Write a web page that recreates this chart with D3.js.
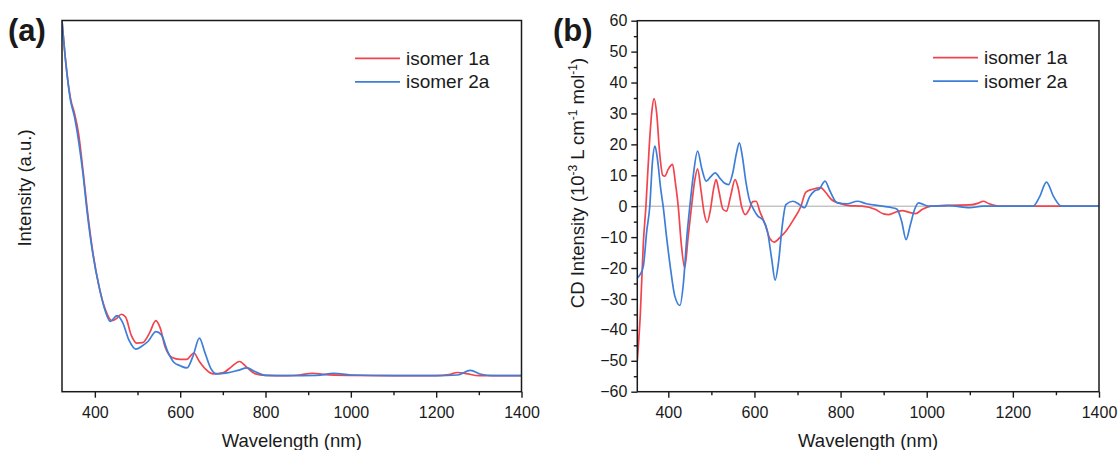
<!DOCTYPE html>
<html>
<head>
<meta charset="utf-8">
<script src="https://cdn.jsdelivr.net/npm/d3@7"></script>
<style>
  body { margin: 0; background: #fff; }
  text { font-family: "Liberation Sans", Arial, sans-serif; fill: #1a1a1a; }
</style>
</head>
<body>
<div id="chart"></div>
<script>
// ---- data ----
const seriesNames = ['isomer 1a', 'isomer 2a'];
const xMajorTicks = [400, 600, 800, 1000, 1200, 1400];
const xMinorTicks = [500, 700, 900, 1100, 1300];
const cdMajorTicks = [-60, -50, -40, -30, -20, -10, 0, 10, 20, 30, 40, 50, 60];
const cdMinorTicks = [-55, -45, -35, -25, -15, -5, 5, 15, 25, 35, 45, 55];

// (a) absorption, isomer 1a
const wlAbs1 = [323, 332, 343, 352, 362, 372, 382, 395, 410, 425, 440, 450, 462, 472, 485, 498, 512, 528, 543, 553, 565, 580, 600, 615, 632, 645, 660, 678, 700, 720, 739, 755, 775, 800, 850, 880, 910, 940, 1000, 1100, 1200, 1230, 1250, 1270, 1300, 1400];
const absA1 = [100, 88, 78, 74, 68, 58, 47, 35, 25, 18.5, 15.5, 16, 17.3, 16.5, 11.5, 9.2, 9.3, 12, 15.5, 13.5, 8, 5.2, 4.6, 4.6, 6.4, 4, 1.8, 0.5, 0.8, 2.5, 4, 2.5, 0.6, 0.1, 0, 0.2, 0.7, 0.3, 0.1, 0, 0, 0.3, 0.9, 0.6, 0, 0];
// (a) absorption, isomer 2a
const wlAbs2 = [323, 332, 343, 352, 362, 372, 382, 395, 410, 425, 436, 452, 465, 480, 496, 510, 525, 543, 556, 570, 585, 600, 616, 630, 645, 658, 672, 686, 710, 735, 757, 775, 800, 850, 920, 960, 1000, 1100, 1200, 1250, 1280, 1305, 1330, 1400];
const absA2 = [100, 88, 77.5, 73, 66, 57, 46, 34.5, 25, 18, 15.3, 16.9, 15, 10, 7.5, 8.3, 9.7, 12.4, 11.5, 7, 3.8, 2.8, 2.2, 5.5, 10.6, 6.5, 2, 0.5, 0.8, 1.5, 2.2, 1.2, 0.1, 0, 0.1, 0.7, 0.2, 0, 0, 0.2, 1.5, 0.4, 0, 0];

// (b) CD, isomer 1a
const wlCd1 = [328, 335, 342, 348, 356, 362, 367, 373, 380, 387, 392, 400, 410, 416, 423, 430, 438, 446, 454, 461, 468, 476, 483, 490, 498, 505, 511, 518, 527, 535, 545, 555, 562, 570, 579, 588, 596, 604, 612, 625, 636, 646, 660, 673, 690, 708, 719, 735, 754, 765, 780, 797, 820, 850, 880, 900, 912, 930, 943, 960, 974, 990, 1010, 1050, 1100, 1120, 1131, 1145, 1170, 1250, 1400];
const cdB1 = [-50, -35, -12, 0, 20, 31, 34.8, 30, 17, 10, 9.7, 12, 13.5, 8, 0, -12, -19.9, -10, 0, 8, 12.1, 5, -2, -5.2, -1, 5.5, 8.6, 4.5, -1, -1.6, 3.5, 8.6, 6, 0, -2.7, -1, 1.5, 1.6, -1.5, -6, -10.5, -11.6, -10, -8.1, -4.5, 0, 4.5, 5.5, 6, 4.5, 2, 1, 0.2, 0, -1, -2.5, -2.7, -1.8, -1.4, -2, -2.4, -1, 0, 0.3, 0.4, 1, 1.6, 0.8, 0, 0, 0];
// (b) CD, isomer 2a
const wlCd2 = [328, 335, 342, 350, 357, 363, 369, 375, 382, 388, 396, 405, 415, 427, 435, 443, 450, 458, 468, 478, 488, 498, 509, 520, 530, 540, 550, 558, 565, 572, 580, 588, 598, 608, 620, 630, 640, 648, 656, 664, 673, 689, 705, 716, 728, 740, 750, 764, 775, 792, 815, 839, 860, 897, 920, 931, 942, 952, 962, 972, 981, 1004, 1050, 1100, 1130, 1200, 1247, 1262, 1278, 1295, 1313, 1400];
const cdB2 = [-23.2, -22, -19.4, -8, 0, 14, 19.4, 15, 6, 0, -10, -20, -29, -32.1, -25, -10, 0, 10, 17.8, 12, 8.1, 9.5, 10.8, 9, 7.5, 7, 11, 17, 20.5, 16, 8, 2.2, -1, -3.2, -4.5, -8, -17, -23.9, -18, -7, 0.5, 1.6, 0.5, -0.5, 3, 5, 5.5, 8.1, 5, 1.1, 0.8, 1.6, 0.8, 0, -0.5, -1, -5, -10.8, -6, -1, 1.1, 0, 0.2, -0.5, 0, 0, 0, 3, 7.8, 3, 0, 0];

const colors = ['#f2444c', '#3d7ed8'];

// ---- layout ----
const W = 1118, H = 450;
const svg = d3.select('#chart').append('svg')
  .attr('width', W).attr('height', H);

const panelA = { x0: 62, x1: 521.5, y0: 20.5, y1: 391.7 };
const panelB = { x0: 637.3, x1: 1099, y0: 20.7, y1: 391.7 };

function zip(xs, ys) { return xs.map((d, i) => [d, ys[i]]); }

function drawPanel(p, opt) {
  const x = d3.scaleLinear().domain(opt.xDomain).range([p.x0, p.x1]);
  const y = d3.scaleLinear().domain(opt.yDomain).range([p.y1, p.y0]);
  const g = svg.append('g');

  const clipId = 'clip-' + opt.key;
  svg.append('clipPath').attr('id', clipId)
    .append('rect')
      .attr('x', p.x0).attr('y', p.y0)
      .attr('width', p.x1 - p.x0).attr('height', p.y1 - p.y0);

  // zero line (CD only)
  if (opt.zeroLine) {
    g.append('line')
      .attr('x1', p.x0).attr('x2', p.x1)
      .attr('y1', y(0)).attr('y2', y(0))
      .attr('stroke', '#a8a8a8').attr('stroke-width', 1);
  }

  const line = d3.line()
    .x(d => x(d[0])).y(d => y(d[1]))
    .curve(d3.curveMonotoneX);

  const lines = g.append('g').attr('clip-path', 'url(#' + clipId + ')');
  opt.series.forEach((s, i) => {
    lines.append('path')
      .datum(s)
      .attr('fill', 'none')
      .attr('stroke', colors[i])
      .attr('stroke-width', 1.7)
      .attr('stroke-linejoin', 'round')
      .attr('d', line);
  });

  // x axis, major + minor
  const xa = g.append('g')
    .attr('transform', 'translate(0,' + p.y1 + ')')
    .call(d3.axisBottom(x).tickValues(xMajorTicks).tickSize(6).tickSizeOuter(0).tickPadding(9).tickFormat(d3.format('d')));
  xa.select('.domain').remove();
  xa.selectAll('line').attr('stroke', '#1a1a1a').attr('stroke-width', 1.4);
  xa.selectAll('text').attr('font-size', 16).attr('font-family', null).attr('fill', '#1a1a1a');

  const xm = g.append('g')
    .attr('transform', 'translate(0,' + p.y1 + ')')
    .call(d3.axisBottom(x).tickValues(xMinorTicks).tickSize(3.5).tickFormat(''));
  xm.select('.domain').remove();
  xm.selectAll('line').attr('stroke', '#1a1a1a').attr('stroke-width', 1.4);

  if (opt.yTicks) {
    const ya = g.append('g')
      .attr('transform', 'translate(' + p.x0 + ',0)')
      .call(d3.axisLeft(y).tickValues(opt.yTicks).tickSize(6).tickSizeOuter(0).tickPadding(4));
    ya.select('.domain').remove();
    ya.selectAll('line').attr('stroke', '#1a1a1a').attr('stroke-width', 1.4);
    ya.selectAll('text').attr('font-size', 16).attr('font-family', null).attr('fill', '#1a1a1a');

    const ym = g.append('g')
      .attr('transform', 'translate(' + p.x0 + ',0)')
      .call(d3.axisLeft(y).tickValues(opt.yMinor).tickSize(3.5).tickFormat(''));
    ym.select('.domain').remove();
    ym.selectAll('line').attr('stroke', '#1a1a1a').attr('stroke-width', 1.4);
  }

  // frame
  g.append('rect')
    .attr('x', p.x0).attr('y', p.y0)
    .attr('width', p.x1 - p.x0).attr('height', p.y1 - p.y0)
    .attr('fill', 'none').attr('stroke', '#1a1a1a').attr('stroke-width', 1.5);

  // axis titles
  g.append('text')
    .attr('x', (p.x0 + p.x1) / 2).attr('y', 447)
    .attr('text-anchor', 'middle').attr('font-size', 18.5)
    .text('Wavelength (nm)');

  const yt = g.append('text')
    .attr('transform', 'translate(' + opt.yTitleX + ',' + opt.yTitleY + ') rotate(-90)')
    .attr('text-anchor', 'middle').attr('font-size', 18.5);
  opt.yTitle(yt);

  // panel label
  g.append('text')
    .attr('x', opt.labelX).attr('y', 41)
    .attr('font-size', 31).attr('font-weight', 'bold')
    .text(opt.label);

  // legend
  seriesNames.forEach((name, i) => {
    const ly = opt.legendY + i * 23.5;
    g.append('line')
      .attr('x1', opt.legendX).attr('x2', opt.legendX + 45)
      .attr('y1', ly).attr('y2', ly)
      .attr('stroke', colors[i]).attr('stroke-width', 1.7);
    g.append('text')
      .attr('x', opt.legendX + 51).attr('y', ly + 6.5)
      .attr('font-size', 19)
      .text(name);
  });
}

drawPanel(panelA, {
  key: 'a',
  xDomain: [323, 1400],
  yDomain: [-4.5, 100],
  series: [zip(wlAbs1, absA1), zip(wlAbs2, absA2)],
  yTitleX: 31, yTitleY: 188,
  yTitle: t => t.text('Intensity (a.u.)'),
  label: '(a)', labelX: 8,
  legendX: 355, legendY: 58.3
});

drawPanel(panelB, {
  key: 'b',
  xDomain: [328, 1400],
  yDomain: [-60, 60],
  yTicks: cdMajorTicks,
  yMinor: cdMinorTicks,
  zeroLine: true,
  series: [zip(wlCd1, cdB1), zip(wlCd2, cdB2)],
  yTitleX: 584, yTitleY: 183,
  yTitle: t => {
    t.append('tspan').text('CD Intensity (10');
    t.append('tspan').attr('dy', -7).attr('font-size', 12).text('-3');
    t.append('tspan').attr('dy', 7).text(' L cm');
    t.append('tspan').attr('dy', -7).attr('font-size', 12).text('-1');
    t.append('tspan').attr('dy', 7).text(' mol');
    t.append('tspan').attr('dy', -7).attr('font-size', 12).text('-1');
    t.append('tspan').attr('dy', 7).text(')');
  },
  label: '(b)', labelX: 553,
  legendX: 933, legendY: 57.7
});
</script>
</body>
</html>
